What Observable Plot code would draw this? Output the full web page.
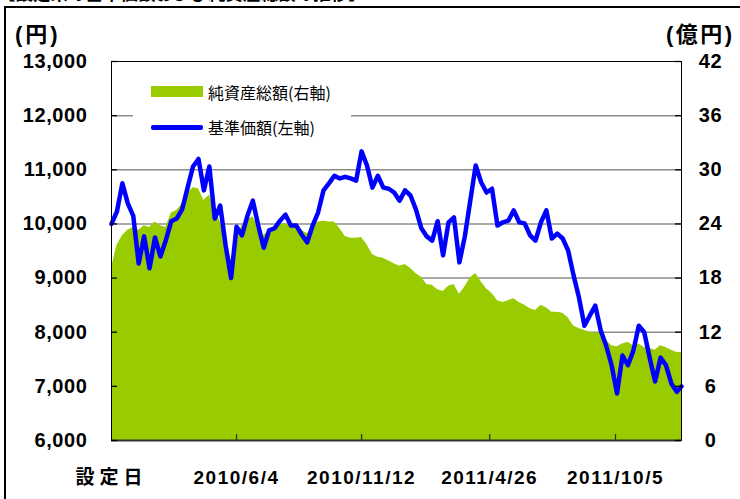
<!DOCTYPE html>
<html><head><meta charset="utf-8">
<script src="https://cdn.jsdelivr.net/npm/d3@7"></script>
<script src="https://cdn.jsdelivr.net/npm/@observablehq/plot@0.6"></script>
<style>
html,body{margin:0;padding:0;background:#fff;}
#wrap{position:relative;width:740px;height:499px;overflow:hidden;font-family:"Liberation Sans","Noto Sans CJK JP",sans-serif;color:#000;}
#wrap svg{position:absolute;left:0;top:0;}
.ov{position:absolute;white-space:nowrap;}
</style></head><body><div id="wrap"></div>
<script>
// ---- data ----
const dates = ["2009-12-25","2010-01-01","2010-01-08","2010-01-15","2010-01-22","2010-01-29","2010-02-05","2010-02-12","2010-02-19","2010-02-26",
"2010-03-05","2010-03-12","2010-03-19","2010-03-26","2010-04-02","2010-04-09","2010-04-16","2010-04-23","2010-04-30","2010-05-07",
"2010-05-14","2010-05-21","2010-05-28","2010-06-04","2010-06-11","2010-06-18","2010-06-25","2010-07-02","2010-07-09","2010-07-16",
"2010-07-23","2010-07-30","2010-08-06","2010-08-13","2010-08-20","2010-08-27","2010-09-03","2010-09-10","2010-09-17","2010-09-24",
"2010-10-01","2010-10-08","2010-10-15","2010-10-22","2010-10-29","2010-11-05","2010-11-12","2010-11-19","2010-11-26","2010-12-03",
"2010-12-10","2010-12-17","2010-12-24","2010-12-31","2011-01-07","2011-01-14","2011-01-21","2011-01-28","2011-02-04","2011-02-11",
"2011-02-18","2011-02-25","2011-03-04","2011-03-11","2011-03-18","2011-03-25","2011-04-01","2011-04-08","2011-04-15","2011-04-22",
"2011-04-29","2011-05-06","2011-05-13","2011-05-20","2011-05-27","2011-06-03","2011-06-10","2011-06-17","2011-06-24","2011-07-01",
"2011-07-08","2011-07-15","2011-07-22","2011-07-29","2011-08-05","2011-08-12","2011-08-19","2011-08-26","2011-09-02","2011-09-09",
"2011-09-16","2011-09-23","2011-09-30","2011-10-07","2011-10-14","2011-10-21","2011-10-28","2011-11-04","2011-11-11","2011-11-18",
"2011-11-25","2011-12-02","2011-12-09","2011-12-16","2011-12-23","2011-12-29"];
// 基準価額 (円, left axis)
const price = [10000,10230,10750,10380,10150,9270,9770,9180,9750,9400,
9700,10050,10100,10270,10670,11060,11200,10620,11060,10100,
10340,9600,9000,9950,9790,10150,10430,9970,9560,9880,
9920,10060,10170,9970,9970,9800,9660,9970,10210,10620,
10750,10890,10840,10870,10840,10800,11340,11080,10670,10890,
10670,10650,10580,10430,10620,10525,10270,9920,9770,9690,
10050,9420,10030,10120,9290,9770,10430,11080,10770,10580,
10650,9970,10030,10060,10250,10030,10010,9790,9690,10030,
10250,9730,9820,9730,9510,9050,8640,8120,8310,8490,
8030,7750,7390,6870,7570,7390,7660,8120,8000,7530,
7090,7530,7390,7050,6900,7000];
// 純資産総額 (億円, right axis)
const netAssets = [19.1,21.6,22.7,23.3,23.6,23.3,23.8,23.6,24.2,23.8,
23.6,25.2,25.5,26.2,27.4,28.0,27.9,26.6,27.2,25.7,
24.2,22.2,20.0,22.6,23.8,24.4,24.8,23.7,22.7,23.3,
23.6,24.0,24.0,23.8,23.5,23.3,22.9,23.6,24.2,24.3,
24.2,24.2,23.5,22.6,22.4,22.4,22.5,21.7,20.6,20.3,
20.2,19.9,19.6,19.3,19.5,19.1,18.5,18.1,17.3,17.2,
16.7,16.5,17.1,17.3,16.2,17.0,18.0,18.5,17.6,16.8,
16.3,15.5,15.3,15.5,15.7,15.3,15.0,14.6,14.4,15.0,
14.7,14.2,14.2,14.1,13.6,12.7,12.4,12.2,12.0,11.9,
11.9,11.1,10.5,10.4,10.7,10.9,10.5,10.7,10.3,10.2,
10.0,10.5,10.3,10.0,9.75,9.75];

const leftTicks = [6000,7000,8000,9000,10000,11000,12000,13000];
const rightTicks = [0,6,12,18,24,30,36,42];
const xTickDates = ["2009-12-25","2010-06-04","2010-11-12","2011-04-26","2011-10-05"];
const xTickLabels = ["設定日","2010/6/4","2010/11/12","2011/4/26","2011/10/5"];
const xDomain = ["2009-12-25","2011-12-29"];
const seriesNames = ["純資産総額(右軸)","基準価額(左軸)"];
const unitLeft = "(円)", unitRight = "(億円)";
const titleText = "【設定来の基準価額および純資産総額の推移】";

// ---- build ----
const parse = d3.utcParse("%Y-%m-%d");
const rows = dates.map((d,i)=>({date: parse(d), price: price[i], nav: netAssets[i]}));
// map right axis (億円) onto the left scale (円): 0 -> 6000, 42 -> 13000
const r2l = d3.scaleLinear().domain([rightTicks[0], rightTicks[rightTicks.length-1]]).range([leftTicks[0], leftTicks[leftTicks.length-1]]);
const rightLabel = new Map(leftTicks.map((v,i)=>[v, String(rightTicks[i])]));
const xt = xTickDates.map(parse);
const xLabel = new Map(xt.map((d,i)=>[+d, xTickLabels[i]]));
const x0 = parse(xDomain[0]), x1 = parse(xDomain[1]);
const yBase = leftTicks[0];

const chart = Plot.plot({
  width: 740, height: 499,
  marginLeft: 111, marginRight: 59, marginTop: 61, marginBottom: 59,
  style: {fontFamily: '"Liberation Sans","Noto Sans CJK JP",sans-serif', color: "#000", background: "transparent", overflow: "visible"},
  x: {type: "utc", domain: [x0, x1], label: null},
  y: {domain: [leftTicks[0], leftTicks[leftTicks.length-1]], label: null},
  marks: [
    Plot.ruleY(leftTicks.slice(1, -1), {stroke: "#8c8c8c", strokeWidth: 1.5}),
    Plot.areaY(rows, {x: "date", y1: () => yBase, y2: d => r2l(d.nav), fill: "#99cc00"}),
    Plot.lineY(rows, {x: "date", y: "price", stroke: "#0000ff", strokeWidth: 4.5, strokeLinejoin: "round", strokeLinecap: "round"}),
    Plot.frame({stroke: "#000", strokeWidth: 1}),
    Plot.ruleY([yBase], {stroke: "#333", strokeWidth: 2}),
    // inward tick marks
    Plot.ruleY(leftTicks, {y: d => d, x1: () => x0, x2: () => x0, insetRight: -6, stroke: "#000", strokeWidth: 1.3}),
    Plot.ruleY(leftTicks, {y: d => d, x1: () => x1, x2: () => x1, insetLeft: -6, stroke: "#000", strokeWidth: 1.3}),
    Plot.ruleX(xt.slice(1), {x: d => d, y1: () => yBase, y2: () => yBase, insetTop: -6, stroke: "#333", strokeWidth: 1.3}),
    Plot.axisY({ticks: leftTicks, anchor: "left", tickSize: 0, tickPadding: 24, tickFormat: d3.format(","), fontSize: 20, fontWeight: "bold", label: null}),
    Plot.axisY({ticks: leftTicks, anchor: "right", tickSize: 0, tickPadding: 29, textAnchor: "middle", tickFormat: d => rightLabel.get(d), fontSize: 20, fontWeight: "bold", label: null}),
    Plot.axisX({ticks: xt, tickSize: 0, tickPadding: 30, tickFormat: d => xLabel.get(+d), fontSize: 19, fontWeight: "bold", label: null})
  ]
});
const wrap = document.getElementById("wrap");
wrap.appendChild(chart);

d3.select(chart).selectAll('g[aria-label="x-axis tick label"] text').attr("letter-spacing", "1.5px");
d3.select(chart).selectAll("text").filter(function(){return this.textContent === xTickLabels[0];}).attr("letter-spacing", "5px");
d3.select(chart).selectAll('g[aria-label="y-axis tick label"] text').attr("letter-spacing", "0.6px");

// ---- overlays: outer frame, title, units, legend ----
function ov(html, css){ const d = document.createElement("div"); d.className = "ov"; d.style.cssText = css; d.textContent = html; wrap.appendChild(d); return d; }
ov("", "left:4px;top:6px;width:900px;height:700px;border-top:2px solid #000;border-left:2px solid #000;");
ov(titleText, "left:-2px;top:-16px;font-size:17.5px;line-height:18px;font-weight:bold;font-family:'Noto Sans CJK JP',sans-serif;");
ov(unitLeft, "left:15px;top:22px;font-size:22px;line-height:26px;font-weight:bold;letter-spacing:3px;");
ov(unitRight, "left:666px;top:22px;font-size:22px;line-height:26px;font-weight:bold;letter-spacing:2.5px;");
const lg = ov("", "left:133px;top:76px;width:218px;height:68px;background:#fff;");
const sw1 = document.createElement("div"); sw1.style.cssText = "position:absolute;left:18px;top:10px;width:52px;height:11px;background:#99cc00;"; lg.appendChild(sw1);
const t1 = document.createElement("div"); t1.style.cssText = "position:absolute;left:75px;top:6px;font-size:16px;line-height:20px;font-family:'Noto Sans CJK JP',sans-serif;"; t1.textContent = seriesNames[0]; lg.appendChild(t1);
const sw2 = document.createElement("div"); sw2.style.cssText = "position:absolute;left:18px;top:49px;width:52px;height:4.5px;border-radius:2px;background:#0000ff;"; lg.appendChild(sw2);
const t2 = document.createElement("div"); t2.style.cssText = "position:absolute;left:75px;top:41px;font-size:16px;line-height:20px;font-family:'Noto Sans CJK JP',sans-serif;"; t2.textContent = seriesNames[1]; lg.appendChild(t2);
</script></body></html>
